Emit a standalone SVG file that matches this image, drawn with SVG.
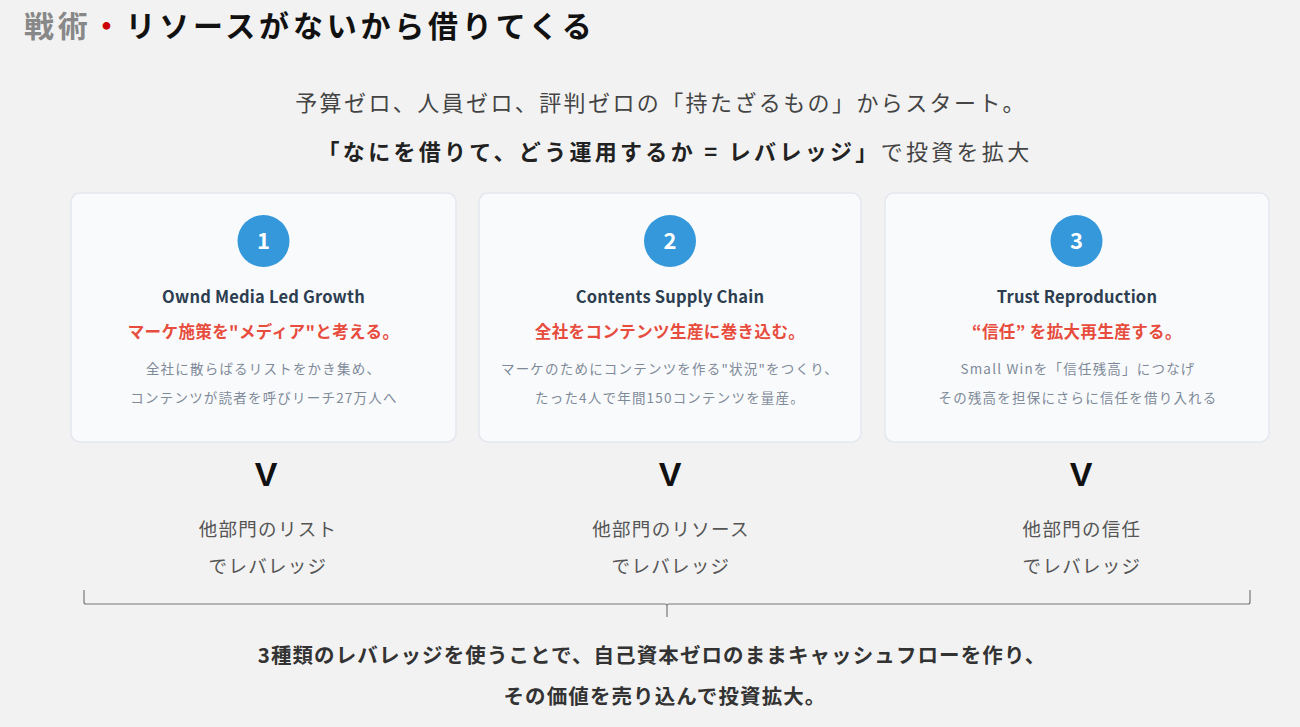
<svg xmlns="http://www.w3.org/2000/svg" width="1300" height="727" viewBox="0 0 1300 727">
<style>
text{font-family:"Noto Sans CJK JP","Noto Sans",sans-serif;}
.card{fill:#f9fafc;stroke:#e3e7ee;stroke-width:1.5;}
.num-c{fill:#3498db;}
.num{fill:#fff;font-size:22px;font-weight:bold;text-anchor:middle;}
.en{fill:#2c3e50;font-size:16.5px;font-weight:bold;text-anchor:middle;letter-spacing:0.2px;}
.red{fill:#e74c3c;font-size:16.5px;font-weight:bold;text-anchor:middle;letter-spacing:0.4px;}
.desc{fill:#7f8a99;font-size:13.5px;text-anchor:middle;letter-spacing:1.2px;}
.v{fill:#111;font-size:34px;text-anchor:middle;font-weight:bold;font-family:"Liberation Sans",sans-serif;}
.lab{fill:#555;font-size:18.5px;text-anchor:middle;letter-spacing:1.3px;}
.sum{fill:#333;font-size:20.5px;font-weight:bold;text-anchor:middle;letter-spacing:1.1px;}
</style>
<rect width="1300" height="727" fill="#f2f2f2"/>
<g id="title">
<text x="24" y="37" font-size="30" font-weight="bold" letter-spacing="3.8"><tspan fill="#888">戦術</tspan><tspan fill="#cc0000">・</tspan><tspan fill="#111">リソースがないから借りてくる</tspan></text>
</g>
<g id="subtitle">
<text x="661" y="111" font-size="22" fill="#444" text-anchor="middle" letter-spacing="2.4">予算ゼロ、人員ゼロ、評判ゼロの「持たざるもの」からスタート。</text>
<text x="675" y="160" font-size="22" fill="#444" text-anchor="middle" letter-spacing="3.3"><tspan font-weight="bold" fill="#222">「なにを借りて、どう運用するか = レバレッジ」</tspan>で投資を拡大</text>
</g>
<g id="card1">
<rect class="card" x="71" y="193" width="385" height="249" rx="9"/>
<circle class="num-c" cx="263.5" cy="241" r="26"/>
<text class="num" x="263.5" y="249">1</text>
<text class="en" x="263.5" y="303">Ownd Media Led Growth</text>
<text class="red" x="263.5" y="338">マーケ施策を"メディア"と考える。</text>
<text class="desc" x="263.5" y="374">全社に散らばるリストをかき集め、</text>
<text class="desc" x="264" y="403">コンテンツが読者を呼びリーチ27万人へ</text>
</g>
<g id="card2">
<rect class="card" x="479" y="193" width="382" height="249" rx="9"/>
<circle class="num-c" cx="670" cy="241" r="26"/>
<text class="num" x="670" y="249">2</text>
<text class="en" x="670" y="303">Contents Supply Chain</text>
<text class="red" x="670" y="338">全社をコンテンツ生産に巻き込む。</text>
<text class="desc" x="670" y="374">マーケのためにコンテンツを作る"状況"をつくり、</text>
<text class="desc" x="670" y="403">たった4人で年間150コンテンツを量産。</text>
</g>
<g id="card3">
<rect class="card" x="885" y="193" width="384" height="249" rx="9"/>
<circle class="num-c" cx="1076.5" cy="241" r="26"/>
<text class="num" x="1076.5" y="249">3</text>
<text class="en" x="1077" y="303">Trust Reproduction</text>
<text class="red" x="1077" y="338">“信任” を拡大再生産する。</text>
<text class="desc" x="1078" y="374">Small Winを「信任残高」につなげ</text>
<text class="desc" x="1078" y="403">その残高を担保にさらに信任を借り入れる</text>
</g>
<g id="leverage1">
<text class="v" x="266" y="486">V</text>
<text class="lab" x="268" y="536">他部門のリスト</text>
<text class="lab" x="268" y="573">でレバレッジ</text>
</g>
<g id="leverage2">
<text class="v" x="670" y="486">V</text>
<text class="lab" x="671" y="536">他部門のリソース</text>
<text class="lab" x="671" y="573">でレバレッジ</text>
</g>
<g id="leverage3">
<text class="v" x="1081" y="486">V</text>
<text class="lab" x="1082" y="536">他部門の信任</text>
<text class="lab" x="1082" y="573">でレバレッジ</text>
</g>
<g id="connectors">
<path d="M84 590 V602 Q84 604 86 604 H665 Q667 604 667 606 V617 M667 606 Q667 604 669 604 H1248 Q1250 604 1250 602 V590" fill="none" stroke="#777" stroke-width="1.2"/>
</g>
<g id="summary">
<text class="sum" x="652" y="663">3種類のレバレッジを使うことで、自己資本ゼロのままキャッシュフローを作り、</text>
<text class="sum" x="665" y="704">その価値を売り込んで投資拡大。</text>
</g>
</svg>
